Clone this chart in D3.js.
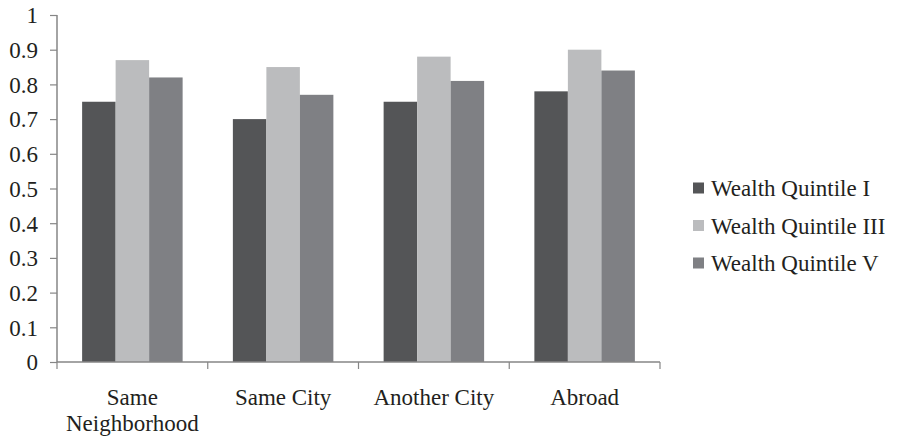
<!DOCTYPE html>
<html>
<head>
<meta charset="utf-8">
<script src="https://cdn.jsdelivr.net/npm/d3@7"></script>
<style>
  html, body { margin: 0; padding: 0; background: #fff; }
  svg { display: block; }
  svg text { font-family: "Liberation Serif", "Times New Roman", Times, Tinos, "DejaVu Serif", serif !important; fill: #231f20; }
</style>
</head>
<body>
<svg id="chart" width="898" height="439"></svg>
<script>
// Share of respondents by place of reference, per wealth quintile
const categories = [["Same", "Neighborhood"], ["Same City"], ["Another City"], ["Abroad"]];
const seriesNames = ["Wealth Quintile I", "Wealth Quintile III", "Wealth Quintile V"];
const quintileI   = [0.75, 0.70, 0.75, 0.78];
const quintileIII = [0.87, 0.85, 0.88, 0.90];
const quintileV   = [0.82, 0.77, 0.81, 0.84];
const yTicks = [0, 0.1, 0.2, 0.3, 0.4, 0.5, 0.6, 0.7, 0.8, 0.9, 1];
const colors = ["#545557", "#bbbcbe", "#7f8084"];

const series = [quintileI, quintileIII, quintileV];
const svg = d3.select("#chart");

const plotLeft = 57, plotRight = 660, plotTop = 15, plotBottom = 362;
const catIdx = d3.range(categories.length);

const x = d3.scaleBand().domain(catIdx).range([plotLeft, plotRight]).paddingInner(0).paddingOuter(0);
const innerPad = x.bandwidth() / 6;
const x1 = d3.scaleBand().domain(d3.range(series.length))
  .range([innerPad, x.bandwidth() - innerPad]);
const y = d3.scaleLinear().domain([0, 1]).range([plotBottom, plotTop]);

// bars
const groups = svg.append("g").selectAll("g")
  .data(catIdx).join("g")
  .attr("transform", i => `translate(${x(i)},0)`);

groups.selectAll("rect")
  .data(i => series.map((s, k) => ({ k, v: s[i] })))
  .join("rect")
  .attr("x", d => x1(d.k))
  .attr("width", x1.bandwidth())
  .attr("y", d => y(d.v))
  .attr("height", d => y(0) - y(d.v))
  .attr("fill", d => colors[d.k]);

// y axis
const yAxis = d3.axisLeft(y).tickValues(yTicks).tickSize(7).tickPadding(12)
  .tickFormat(d => d === 0 ? "0" : d === 1 ? "1" : d3.format(".1f")(d));
const gy = svg.append("g").attr("transform", `translate(${plotLeft},0)`).call(yAxis)
  .attr("font-family", null).attr("font-size", null);
gy.select(".domain").attr("stroke", "#868686").attr("stroke-width", 1.5)
  .attr("d", `M0,${plotTop}V${plotBottom}`);
gy.selectAll(".tick line").attr("stroke", "#868686").attr("stroke-width", 1.2);
gy.selectAll(".tick text").attr("font-size", 23)
  .attr("fill", "#231f20").attr("dy", "0.34em");

// x axis with boundary ticks
const gx = svg.append("g");
gx.append("line").attr("x1", plotLeft).attr("x2", plotRight).attr("y1", plotBottom).attr("y2", plotBottom)
  .attr("stroke", "#868686").attr("stroke-width", 1.5);
gx.selectAll("line.tick")
  .data(d3.range(categories.length + 1)).join("line")
  .attr("class", "tick")
  .attr("x1", i => plotLeft + i * x.bandwidth()).attr("x2", i => plotLeft + i * x.bandwidth())
  .attr("y1", plotBottom).attr("y2", plotBottom + 7)
  .attr("stroke", "#868686").attr("stroke-width", 1.2);

const labels = gx.selectAll("text")
  .data(catIdx).join("text")
  .attr("text-anchor", "middle")
  .attr("font-size", 23)
  .attr("x", i => x(i) + x.bandwidth() / 2)
  .attr("y", 405);
labels.selectAll("tspan")
  .data(i => categories[i].map((t, j) => ({ t, j, i })))
  .join("tspan")
  .attr("x", d => x(d.i) + x.bandwidth() / 2)
  .attr("dy", d => d.j === 0 ? 0 : 26)
  .text(d => d.t);

// legend
const legend = svg.append("g").selectAll("g")
  .data(seriesNames).join("g")
  .attr("transform", (d, k) => `translate(693,${188 + k * 37.5})`);
legend.append("rect").attr("x", 0).attr("y", -5.5).attr("width", 11).attr("height", 11)
  .attr("fill", (d, k) => colors[k]);
legend.append("text").attr("x", 18).attr("y", 8).attr("font-size", 23).text(d => d);
</script>
</body>
</html>
